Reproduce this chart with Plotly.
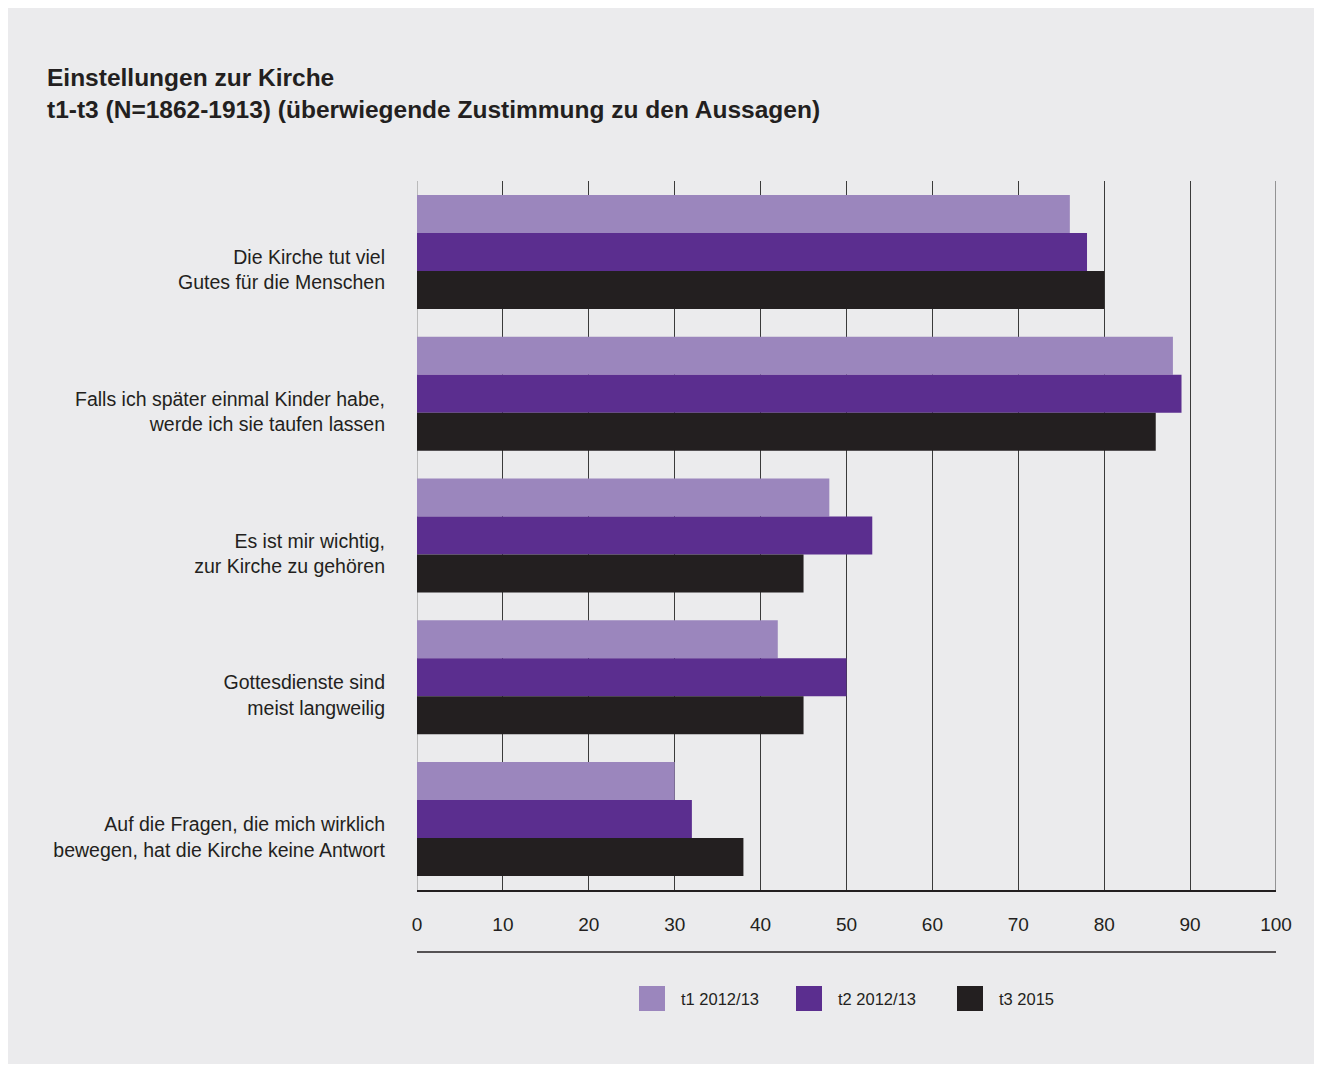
import plotly.graph_objects as go

categories = [
    "Die Kirche tut viel<br>Gutes für die Menschen",
    "Falls ich später einmal Kinder habe,<br>werde ich sie taufen lassen",
    "Es ist mir wichtig,<br>zur Kirche zu gehören",
    "Gottesdienste sind<br>meist langweilig",
    "Auf die Fragen, die mich wirklich<br>bewegen, hat die Kirche keine Antwort",
]
series_names = ["t1 2012/13", "t2 2012/13", "t3 2015"]
t1_values = [76, 88, 48, 42, 30]
t2_values = [78, 89, 53, 50, 32]
t3_values = [80, 86, 45, 45, 38]
x_ticks = [0, 10, 20, 30, 40, 50, 60, 70, 80, 90, 100]

colors = ["#9b86bd", "#5b2e8f", "#231f20"]
BG = "#ebebed"
FONT = "Liberation Sans, Arial, sans-serif"
TEXT = "#231f20"

# page body has an 8px margin; figure sized so the page does not scroll
OFF = 8
W, H = 1322 - 2 * OFF, 1072 - 2 * OFF
L, T = 417 - OFF, 181 - OFF
R = W - (1276 - OFF)
B = H - (890 - OFF)
pw, ph = W - L - R, H - T - B

def px_x(px):
    return (px - OFF - L) / pw

def px_y(py):
    return (H - B - (py - OFF)) / ph

fig = go.Figure()
for name, vals, col in zip(series_names, [t1_values, t2_values, t3_values], colors):
    fig.add_trace(go.Bar(
        y=categories, x=vals, name=name, orientation="h",
        marker=dict(color=col, line=dict(width=0)),
        showlegend=False,
    ))

shapes = [
    # panel background
    dict(type="rect", xref="paper", yref="paper", layer="below",
         x0=px_x(7), x1=px_x(1340), y0=px_y(1090), y1=px_y(7),
         fillcolor=BG, line=dict(width=0)),
    # edge gridlines at 0 and 100
    dict(type="line", xref="x", yref="paper", layer="below",
         x0=x_ticks[0], x1=x_ticks[0], y0=0, y1=1,
         line=dict(color="#8a8a8a", width=1)),
    dict(type="line", xref="x", yref="paper", layer="below",
         x0=x_ticks[-1], x1=x_ticks[-1], y0=0, y1=1,
         line=dict(color="#3a3a3a", width=1)),
    # rule under tick labels
    dict(type="line", xref="paper", yref="paper",
         x0=0, x1=1, y0=px_y(952), y1=px_y(952),
         line=dict(color=TEXT, width=1.5)),
]
annotations = [
    dict(text="<b>Einstellungen zur Kirche<br>t1-t3 (N=1862-1913) (überwiegende Zustimmung zu den Aussagen)</b>",
         xref="paper", yref="paper", x=px_x(45), y=px_y(62),
         xanchor="left", yanchor="top", align="left", showarrow=False,
         font=dict(family=FONT, size=24.5, color=TEXT)),
]

# legend with large square swatches
sw_x = [639, 796, 957]
for i, (name, col) in enumerate(zip(series_names, colors)):
    shapes.append(dict(type="rect", xref="paper", yref="paper",
                       x0=px_x(sw_x[i]), x1=px_x(sw_x[i] + 26),
                       y0=px_y(1011), y1=px_y(986),
                       fillcolor=col, line=dict(width=0)))
    annotations.append(dict(text=name, xref="paper", yref="paper",
                            x=px_x(sw_x[i] + 40), y=px_y(999),
                            xanchor="left", yanchor="middle", showarrow=False,
                            font=dict(family=FONT, size=16.5, color=TEXT)))

fig.update_layout(
    width=W, height=H,
    margin=dict(l=L, r=R, t=T, b=B, pad=0),
    paper_bgcolor="white", plot_bgcolor="rgba(0,0,0,0)",
    barmode="group", bargap=0.196, bargroupgap=0,
    font=dict(family=FONT, size=19, color=TEXT),
    shapes=shapes, annotations=annotations,
    xaxis=dict(range=[0, 100], tickvals=x_ticks, showgrid=True,
               gridcolor="#3a3a3a", gridwidth=1, zeroline=False,
               showline=True, linecolor=TEXT, linewidth=1.5,
               ticks="", ticklabelstandoff=16,
               tickfont=dict(family=FONT, size=19, color=TEXT)),
    yaxis=dict(autorange="reversed", showgrid=False, zeroline=False,
               showline=False, ticks="", ticklabelstandoff=31,
               ticklabelshift=-18,
               tickfont=dict(family=FONT, size=19.5, color=TEXT)),
)

fig.write_html("out.html")
